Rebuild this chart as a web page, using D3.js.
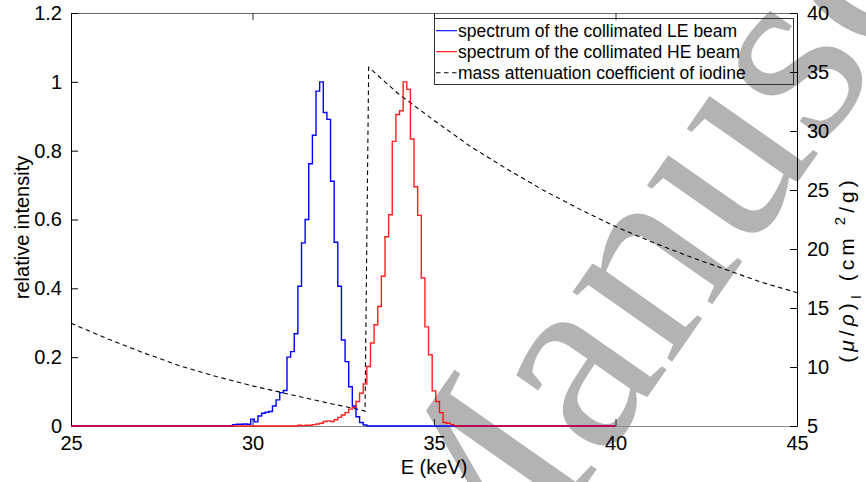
<!DOCTYPE html>
<html>
<head>
<meta charset="utf-8">
<script src="https://cdn.jsdelivr.net/npm/d3@7/dist/d3.min.js"></script>
<style>
  body { margin: 0; background: #fff; }
  svg { font-family: "Liberation Sans", Arial, Helvetica, sans-serif; }
</style>
</head>
<body>
<svg id="chart" width="866" height="482"></svg>
<script>
// spectra: 0.1 keV bins, values given from the left edge of the first non-zero bin
var binWidth = 0.1;
var specRange = [25, 40];

var leStart = 29.45;
var leValues = [0.004, 0.005, 0.005, 0.006, 0.005, 0.020, 0.012, 0.029, 0.037, 0.040,
                0.042, 0.058, 0.076, 0.097, 0.103, 0.200, 0.216, 0.268, 0.406, 0.532,
                0.600, 0.762, 0.845, 0.973, 1.000, 0.911, 0.891, 0.711, 0.534, 0.406,
                0.250, 0.187, 0.114, 0.058, 0.027, 0.010, 0.003];

var heStart = 31.25;
var heValues = [0.002, 0.001, 0.002, 0.002, 0.004, 0.006, 0.008, 0.013, 0.015, 0.013,
                0.018, 0.025, 0.032, 0.039, 0.049, 0.054, 0.071, 0.095, 0.122, 0.173,
                0.241, 0.294, 0.347, 0.435, 0.550, 0.614, 0.827, 0.905, 0.916, 1.000,
                0.978, 0.834, 0.695, 0.612, 0.430, 0.288, 0.207, 0.102, 0.071, 0.039,
                0.010, 0.008, 0.004, 0.001];

// mass attenuation coefficient of iodine (cm^2/g), K-edge near 33.17 keV
var muEnergy = [25, 26, 27, 28, 29, 30, 31, 32, 33, 33.1, 33.2, 34, 35, 36, 37, 38, 39, 40, 41, 42, 43, 44, 45];
var muValues = [13.7, 12.4, 11.2, 10.1, 9.2, 8.4, 7.7, 7.0, 6.35, 6.25, 35.4, 33.2, 30.9, 28.7, 26.8, 25.0, 23.4, 21.9, 20.6, 19.4, 18.3, 17.2, 16.3];

var xTicks = [25, 30, 35, 40, 45];
var leftTicks = [0, 0.2, 0.4, 0.6, 0.8, 1, 1.2];
var leftTickLabels = ["0", "0.2", "0.4", "0.6", "0.8", "1", "1.2"];
var rightTicks = [5, 10, 15, 20, 25, 30, 35, 40];

var legendLabels = ["spectrum of the collimated LE beam",
                    "spectrum of the collimated HE beam",
                    "mass attenuation coefficient of iodine"];

var svg = d3.select("#chart");
var margin = {top: 13, right: 69, bottom: 56, left: 71};
var width = 866 - margin.left - margin.right,
    height = 482 - margin.top - margin.bottom;

// watermark behind everything
svg.append("text")
    .attr("transform", "translate(466,656) rotate(-55)")
    .style("font-family", "'Liberation Serif', 'Times New Roman', serif")
    .style("font-size", "265px")
    .attr("fill", "#b3b3b3")
    .text("Manuscript");

var g = svg.append("g")
    .attr("transform", "translate(" + margin.left + "," + margin.top + ")");

var x = d3.scaleLinear().domain([25, 45]).range([0, width]);
var yL = d3.scaleLinear().domain([0, 1.2]).range([height, 0]);
var yR = d3.scaleLinear().domain([5, 40]).range([height, 0]);

function styleAxis(sel, color) {
    sel.selectAll("text").style("font-size", "20px").attr("fill", "#000");
    sel.selectAll("line").attr("stroke", color);
    sel.select(".domain").attr("stroke", color);
    sel.attr("font-family", null);
}

// bottom
var xAxis = g.append("g")
    .attr("transform", "translate(0," + height + ")")
    .call(d3.axisBottom(x).tickValues(xTicks).tickSize(-7).tickSizeOuter(0).tickPadding(10));
styleAxis(xAxis, "#262626");
xAxis.select(".domain").attr("stroke", "#8a8a8a");

// top
var topAxis = g.append("g")
    .call(d3.axisTop(x).tickValues(xTicks.slice(1, -1)).tickSize(-7).tickSizeOuter(0).tickFormat(""));
styleAxis(topAxis, "#262626");
topAxis.select(".domain").attr("stroke", "#6a6a6a");

// left
var leftAxis = g.append("g")
    .call(d3.axisLeft(yL).tickValues(leftTicks).tickSize(-7).tickSizeOuter(0).tickPadding(9)
        .tickFormat(function(d, i) { return leftTickLabels[i]; }));
styleAxis(leftAxis, "#000");

// right
var rightAxis = g.append("g")
    .attr("transform", "translate(" + width + ",0)")
    .call(d3.axisRight(yR).tickValues(rightTicks).tickSize(-7).tickSizeOuter(0).tickPadding(10));
styleAxis(rightAxis, "#000");

// axis labels
g.append("text")
    .attr("x", width / 2)
    .attr("y", height + 48)
    .attr("text-anchor", "middle")
    .style("font-size", "20px")
    .text("E (keV)");

g.append("text")
    .attr("transform", "translate(-42," + (height / 2 + 8) + ") rotate(-90)")
    .attr("text-anchor", "middle")
    .style("font-size", "20px")
    .text("relative intensity");

var rl = g.append("text")
    .attr("transform", "translate(" + (width + 57) + "," + (height / 2 + 50) + ") rotate(-90)")
    .attr("text-anchor", "middle")
    .style("font-size", "21px")
    .style("letter-spacing", "4px");
rl.append("tspan").text("(");
rl.append("tspan").style("font-style", "italic").text("μ");
rl.append("tspan").text("/");
rl.append("tspan").style("font-style", "italic").text("ρ");
rl.append("tspan").text(")");
rl.append("tspan").attr("dy", 7).style("font-size", "15px").text("I");
rl.append("tspan").attr("dy", -7).attr("dx", 10).text("(cm");
rl.append("tspan").attr("dy", -9).attr("dx", 9).style("font-size", "15px").text("2");
rl.append("tspan").attr("dy", 9).text("/g)");

// lines
function stepPoints(start, values) {
    var pts = [[specRange[0], 0]];
    values.forEach(function(v, i) { pts.push([start + i * binWidth, v]); });
    pts.push([start + values.length * binWidth, 0]);
    pts.push([specRange[1], 0]);
    return pts;
}

var stepLine = d3.line()
    .x(function(d) { return x(d[0]); })
    .y(function(d) { return yL(d[1]); })
    .curve(d3.curveStepAfter);

var muLine = d3.line()
    .x(function(d) { return x(d[0]); })
    .y(function(d) { return yR(d[1]); });

g.append("path")
    .datum(muEnergy.map(function(e, i) { return [e, muValues[i]]; }))
    .attr("d", muLine)
    .attr("fill", "none")
    .attr("stroke", "#000")
    .attr("stroke-width", 1.1)
    .attr("stroke-dasharray", "4.5,3.5");

g.append("path")
    .datum(stepPoints(leStart, leValues))
    .attr("d", stepLine)
    .attr("fill", "none")
    .attr("stroke", "#0000ff")
    .attr("stroke-width", 1.4);

g.append("path")
    .datum(stepPoints(heStart, heValues))
    .attr("d", stepLine)
    .attr("fill", "none")
    .attr("stroke", "#ff0000")
    .attr("stroke-opacity", 0.88)
    .attr("stroke-width", 1.4);

// legend
var legend = svg.append("g").attr("transform", "translate(434,18)");
legend.append("rect")
    .attr("x", 0.5).attr("y", 0.5)
    .attr("width", 359).attr("height", 66)
    .attr("fill", "none")
    .attr("stroke", "#333")
    .attr("stroke-width", 1);

var legendStyles = [
    {stroke: "#0000ff", dash: null},
    {stroke: "#ff0000", dash: null},
    {stroke: "#000", dash: "4.5,3.5"}
];

legendLabels.forEach(function(label, i) {
    var yy = 12.7 + i * 21;
    legend.append("line")
        .attr("x1", 2).attr("x2", 23)
        .attr("y1", yy).attr("y2", yy)
        .attr("stroke", legendStyles[i].stroke)
        .attr("stroke-width", 1.1)
        .attr("stroke-dasharray", legendStyles[i].dash);
    legend.append("text")
        .attr("x", 24)
        .attr("y", yy)
        .attr("dy", "0.35em")
        .style("font-size", "17.5px")
        .text(label);
});
</script>
</body>
</html>
